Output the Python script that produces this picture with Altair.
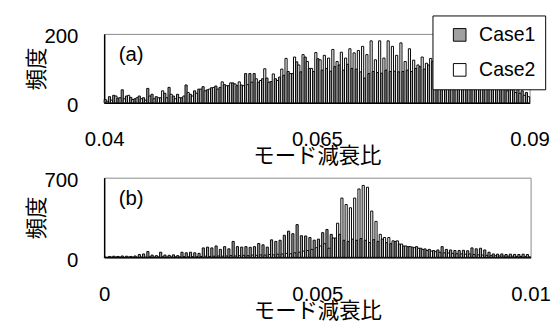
import altair as alt
import pandas as pd

series = ["Case1", "Case2"]
GRAY = "#a0a0a0"

# Panel (a): 100 bins from 0.04 to 0.09
a_lo, a_hi = 0.04, 0.09
a_ticks = [0.04, 0.065, 0.09]
a_case1 = [10, 18, 22, 14, 38, 20, 16, 12, 20, 15,
           42, 25, 18, 15, 28, 45, 20, 25, 15, 52,
           25, 35, 40, 47, 38, 44, 49, 45, 53, 50,
           58, 50, 52, 85, 85, 85, 60, 70, 72, 62,
           70, 75, 80, 91, 85, 119, 90, 133, 100, 91,
           128, 95, 100, 92, 105, 110, 95, 112, 100, 98,
           90, 72, 85, 91, 88, 86, 95, 91, 92, 90,
           91, 95, 91, 100, 105, 98, 110, 120, 105, 100,
           95, 100, 90, 98, 85, 92, 80, 88, 75, 82,
           70, 75, 65, 60, 55, 50, 45, 40, 35, 30]
a_case2 = [5, 8, 20, 15, 12, 22, 10, 15, 12, 8,
           20, 12, 15, 35, 15, 25, 12, 15, 20, 30,
           20, 28, 40, 35, 40, 45, 40, 61, 50, 58,
           55, 61, 50, 53, 60, 70, 65, 99, 60, 84,
           65, 98, 129, 85, 133, 110, 140, 120, 100, 146,
           125, 138, 130, 155, 120, 147, 130, 157, 145, 152,
           164, 140, 180, 125, 180, 130, 180, 164, 138, 174,
           120, 157, 124, 110, 133, 115, 129, 110, 120, 100,
           105, 90, 95, 80, 85, 70, 75, 60, 65, 50,
           55, 45, 40, 42, 35, 38, 30, 28, 22, 18]

# Panel (b): 100 bins from 0 to 0.01
b_lo, b_hi = 0.0, 0.01
b_ticks = [0, 0.005, 0.01]
b_case1 = [3, 8, 10, 8, 12, 10, 8, 12, 25, 30,
           51, 20, 15, 45, 20, 18, 22, 15, 45, 40,
           45, 40, 35, 83, 90, 83, 100, 70, 94, 75,
           140, 94, 90, 94, 88, 94, 122, 110, 90, 154,
           140, 150, 194, 230, 208, 288, 190, 188, 174, 151,
           160, 217, 245, 202, 170, 202, 150, 140, 160, 150,
           165, 150, 130, 155, 140, 160, 130, 120, 140, 117,
           100, 94, 90, 94, 80, 74, 70, 60, 65, 94,
           70, 65, 60, 60, 62, 58, 83, 75, 80, 65,
           45, 30, 28, 30, 25, 28, 26, 25, 28, 25]
b_case2 = [0, 2, 3, 2, 0, 3, 2, 1, 3, 2,
           5, 3, 4, 5, 3, 4, 5, 4, 6, 5,
           6, 5, 8, 10, 8, 10, 12, 10, 12, 15,
           12, 15, 18, 15, 20, 18, 22, 20, 25, 22,
           28, 30, 35, 32, 40, 45, 55, 60, 70, 85,
           100, 120, 80, 170, 300, 521, 464, 436, 521, 601,
           632, 616, 407, 316, 202, 174, 174, 145, 145, 117,
           100, 94, 85, 80, 70, 60, 55, 50, 45, 40,
           38, 35, 32, 30, 28, 30, 25, 22, 20, 18,
           15, 14, 12, 12, 10, 10, 8, 8, 6, 5]


def table(c1, c2, lo, hi):
    n = len(c1)
    step = (hi - lo) / n
    rows = []
    for i, (v1, v2) in enumerate(zip(c1, c2)):
        rows.append(dict(series=series[0], x=lo + i * step, x2=lo + (i + 0.5) * step, count=v1))
        rows.append(dict(series=series[1], x=lo + (i + 0.5) * step, x2=lo + (i + 1) * step, count=v2))
    return pd.DataFrame(rows)


def panel(df, lo, hi, ticks, ymax, tag, legend, w, h, title_y):
    color = alt.Color(
        "series:N",
        scale=alt.Scale(domain=series, range=[GRAY, "white"]),
        legend=legend,
    )
    bars = alt.Chart(df).mark_rect(stroke="black", strokeWidth=1).encode(
        x=alt.X("x:Q", scale=alt.Scale(domain=[lo, hi], nice=False, zero=False),
                axis=alt.Axis(values=ticks, labelExpr="format(datum.value, '~g')",
                              title="モード減衰比",
                              labelFlush=False, labelPadding=27, titleY=title_y,
                              domainColor="black", domainWidth=1.5)),
        x2="x2:Q",
        y=alt.Y("count:Q", scale=alt.Scale(domain=[0, ymax], nice=False),
                axis=alt.Axis(values=[0, ymax], title="頻度", labelPadding=27,
                              labelAlign="right", labelOffset=3,
                              titleX=-57, titleY=h / 2,
                              domainColor="black", domainWidth=1.5)),
        y2=alt.datum(0),
        color=color,
    )
    txt = alt.Chart(pd.DataFrame({"tag": [tag]})).mark_text(
        align="left", baseline="middle", fontSize=21, font="Liberation Sans", color="black"
    ).encode(text="tag:N", x=alt.value(15), y=alt.value(22))
    return alt.layer(bars, txt).properties(width=w, height=h)


leg = alt.Legend(
    title=None, orient="none", legendX=338, legendY=-19,
    fillColor="white", strokeColor="black", padding=10,
    symbolType="square", symbolSize=169, symbolStrokeColor="black",
    symbolStrokeWidth=1, symbolOffset=8, labelOffset=10,
    labelFontSize=20, labelFont="Liberation Sans", labelColor="black",
    rowPadding=16,
)

top = panel(table(a_case1, a_case2, a_lo, a_hi), a_lo, a_hi, a_ticks, 200, "(a)", leg, 438, 71, 44)
bottom = panel(table(b_case1, b_case2, b_lo, b_hi), b_lo, b_hi, b_ticks, 700, "(b)", None, 439, 82, 45)

chart = alt.vconcat(top, bottom, spacing=77, bounds="flush").resolve_legend(
    color="independent"
).properties(
    padding={"left": 18, "top": 2, "right": 0, "bottom": 0}
).configure_view(
    stroke="#888888", strokeWidth=1
).configure_axis(
    grid=False, ticks=False, labelFont="Liberation Sans", labelFontSize=21,
    labelColor="black", titleFont="Noto Sans CJK JP", titleFontSize=22,
    titleFontWeight="normal", titleColor="black",
)

chart.save("out.html", embed_options={"renderer": "svg", "actions": False})
